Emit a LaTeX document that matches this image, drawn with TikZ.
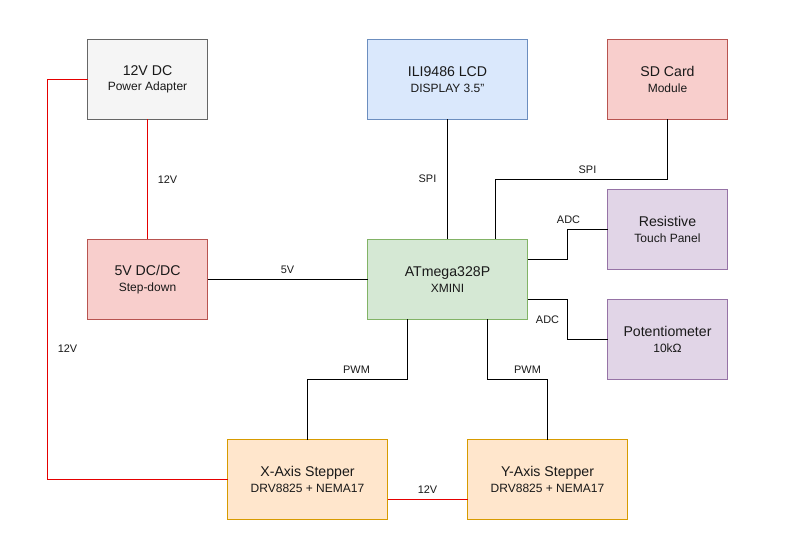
\documentclass[tikz,border=0pt]{standalone}
\usepackage{fontspec}
\setmainfont{Liberation Sans}
\definecolor{gF}{HTML}{F5F5F5}\definecolor{gD}{HTML}{666666}
\definecolor{bF}{HTML}{DAE8FC}\definecolor{bD}{HTML}{6C8EBF}
\definecolor{rF}{HTML}{F8CECC}\definecolor{rD}{HTML}{B85450}
\definecolor{pF}{HTML}{E1D5E7}\definecolor{pD}{HTML}{9673A6}
\definecolor{nF}{HTML}{D5E8D4}\definecolor{nD}{HTML}{82B366}
\definecolor{oF}{HTML}{FFE6CC}\definecolor{oD}{HTML}{D79B00}
\tikzset{
 x=0.75pt,y=-0.75pt,
 block/.style={draw,line width=0.75pt,outer sep=0pt,minimum width=0.75pt*120,minimum height=0.75pt*80,inner sep=0pt,align=center,anchor=north west,text=black!90,font=\fontsize{10.6pt}{12pt}\selectfont},
 wideblock/.style={block,minimum width=0.75pt*160},
 gbox/.style={block,fill=gF,draw=gD},
 bbox/.style={wideblock,fill=bF,draw=bD},
 rbox/.style={block,fill=rF,draw=rD},
 pbox/.style={block,fill=pF,draw=pD},
 nbox/.style={wideblock,fill=nF,draw=nD},
 obox/.style={wideblock,fill=oF,draw=oD},
 wire/.style={draw=black,line width=0.75pt},
 pwr/.style={draw=red!90!black,line width=0.75pt},
 lab/.style={font=\fontsize{8.2pt}{10pt}\selectfont,text=black!90,inner sep=0pt},
}
\newcommand{\two}[2]{\raisebox{-0.5pt}{#1}\\{\fontsize{9pt}{11pt}\selectfont #2}}
\begin{document}
\begin{tikzpicture}
\useasboundingbox (0,0) rectangle (804,549);
\fill[white] (0,0) rectangle (804,549);
\node[gbox] (adapter) at (87.5,39.5) {\two{12V DC}{Power Adapter}};
\node[bbox] (lcd) at (367.5,39.5) {\two{ILI9486 LCD}{DISPLAY 3.5"}};
\node[rbox] (sd) at (607.5,39.5) {\two{SD Card}{Module}};
\node[pbox] (touch) at (607.5,189.5) {\two{Resistive}{Touch Panel}};
\node[rbox] (buck) at (87.5,239.5) {\two{5V DC/DC}{Step-down}};
\node[nbox] (mcu) at (367.5,239.5) {\two{ATmega328P}{XMINI}};
\node[pbox] (pot) at (607.5,299.5) {\two{Potentiometer}{10kΩ}};
\node[obox] (xs) at (227.5,439.5) {\two{X-Axis Stepper}{DRV8825 + NEMA17}};
\node[obox] (ys) at (467.5,439.5) {\two{Y-Axis Stepper}{DRV8825 + NEMA17}};
\coordinate (l1) at (47.5,79.5);
\coordinate (l2) at (47.5,479.5);
\draw[pwr] (adapter.west) -- (l1) -- (l2) -- (xs.west);
\draw[pwr] (adapter.south) -- (buck.north);
\draw[wire] (buck.east) -- (mcu.west);
\draw[pwr] (xs.east |- 0,499.5) -- (ys.west |- 0,499.5);
\draw[wire] (lcd.south) -- (mcu.north);
\draw[wire] (sd.south) |- (495.5,179.5) -- (mcu.north -| 495.5,0);
\draw[wire] (mcu.east |- 0,259.5) -- (567.5,259.5) |- (touch.west);
\draw[wire] (mcu.east |- 0,299.5) -- (567.5,299.5) |- (pot.west);
\draw[wire] (mcu.south -| 407.5,0) |- (307.5,379.5) -- (xs.north -| 307.5,0);
\draw[wire] (mcu.south -| 487.5,0) |- (547.5,379.5) -- (ys.north -| 547.5,0);
\node[lab] (t1) at (167.5,179.5) {12V};
\node[lab] (t2) at (287.5,269.5) {5V};
\node[lab] (t3) at (67.5,348.5) {12V};
\node[lab] (t4) at (427.5,489.5) {12V};
\node[lab] (t5) at (427.5,178.5) {SPI};
\node[lab] (t6) at (587.5,169.5) {SPI};
\node[lab] (t7) at (568.5,219.5) {ADC};
\node[lab] (t8) at (547.5,319.5) {ADC};
\node[lab] (t9) at (356.5,369.5) {PWM};
\node[lab] (t10) at (527.5,369.5) {PWM};
\end{tikzpicture}
\end{document}
